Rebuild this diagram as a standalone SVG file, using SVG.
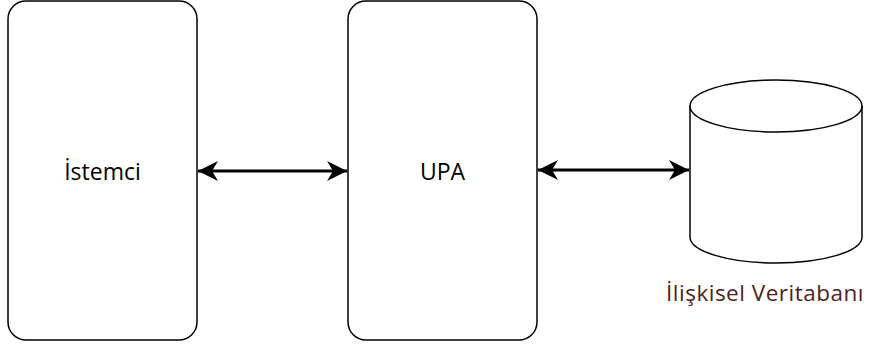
<svg xmlns="http://www.w3.org/2000/svg" width="875" height="345" viewBox="0 0 875 345">
<style>
.box{fill:#fff;stroke:#000;stroke-width:1.5}
.lbl{font-family:"Open Sans","Liberation Sans",sans-serif;font-size:23px;fill:#000;text-anchor:middle}
.conn{stroke:#000;stroke-width:3;fill:none}
</style>
<defs>
<marker id="ah" viewBox="0 0 20 20" refX="20" refY="10" markerWidth="20" markerHeight="20" markerUnits="userSpaceOnUse" orient="auto-start-reverse">
<path d="M0,0 L20,10 L0,20 L6,10 Z" fill="#000"/>
</marker>
</defs>
<rect width="875" height="345" fill="#fff"/>
<g id="istemci">
<rect class="box" x="8" y="1" width="189" height="339" rx="18" ry="18"/>
<text class="lbl" x="102.5" y="180">İstemci</text>
</g>
<g id="upa">
<rect class="box" x="348" y="1" width="189" height="339" rx="18" ry="18"/>
<text class="lbl" x="442.5" y="180">UPA</text>
</g>
<g id="db">
<path class="box" d="M690,106 A86,26 0 0 1 862,106 L862,237 A86,26 0 0 1 690,237 Z"/>
<path d="M690,106 A86,26 0 0 0 862,106" fill="none" stroke="#000" stroke-width="1.5"/>
<text x="765" y="301" font-family="'Open Sans','Liberation Sans',sans-serif" font-size="22.5" fill="#4d1f1f" text-anchor="middle" letter-spacing="0.5">İlişkisel Veritabanı</text>
</g>
<g id="connectors">
<line class="conn" x1="198" y1="171" x2="347" y2="171" marker-start="url(#ah)" marker-end="url(#ah)"/>
<line class="conn" x1="538" y1="170" x2="689" y2="170" marker-start="url(#ah)" marker-end="url(#ah)"/>
</g>
</svg>
